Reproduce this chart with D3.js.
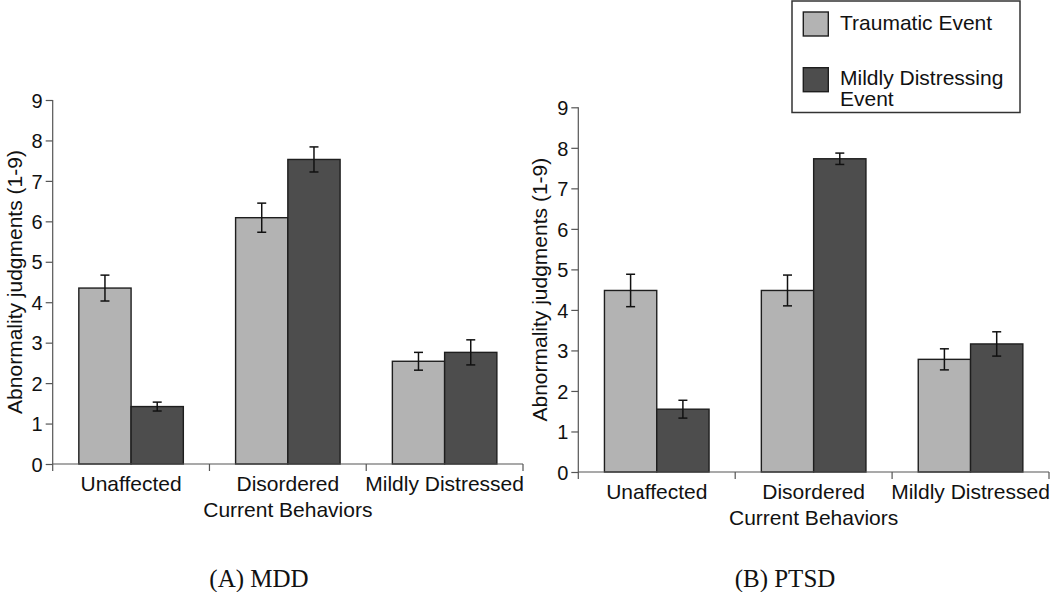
<!DOCTYPE html>
<html>
<head>
<meta charset="utf-8">
<script src="https://cdn.jsdelivr.net/npm/d3@7"></script>
<style>
  html, body { margin: 0; padding: 0; background: #fff; }
  svg { display: block; }
  text { font-family: "Liberation Sans", Arial, Helvetica, sans-serif; fill: #111; }
  .caption { font-family: "Liberation Serif", "Times New Roman", serif; }
</style>
</head>
<body>
<svg id="chart" width="1050" height="592"></svg>
<script>
// ---- data ----
const categories = ["Unaffected", "Disordered", "Mildly Distressed"];
const seriesNames = ["Traumatic Event", "Mildly Distressing Event"];
const yTicks = [0, 1, 2, 3, 4, 5, 6, 7, 8, 9];

const mddTraumatic    = [4.35, 6.09, 2.54];
const mddTraumaticErr = [0.32, 0.36, 0.22];
const mddMild         = [1.42, 7.53, 2.76];
const mddMildErr      = [0.11, 0.31, 0.31];

const ptsdTraumatic    = [4.48, 4.48, 2.78];
const ptsdTraumaticErr = [0.40, 0.38, 0.26];
const ptsdMild         = [1.55, 7.73, 3.16];
const ptsdMildErr      = [0.22, 0.14, 0.30];

const xTitle = "Current Behaviors";
const yTitle = "Abnormality judgments (1-9)";
const captions = ["(A) MDD", "(B) PTSD"];

// ---- styles ----
const colors = ["#b3b3b3", "#4d4d4d"];
const barStroke = "#1e1e1e";
const axisColor = "#555";

const svg = d3.select("#chart");

function drawPanel(cfg) {
  const g = svg.append("g");
  const x = d3.scaleBand().domain(categories).range([cfg.left, cfg.right]).padding(0);
  const xs = d3.scaleBand().domain(seriesNames).range([0, x.bandwidth()])
    .paddingInner(0).paddingOuter(0.5);
  const y = d3.scaleLinear().domain([0, 9]).range([cfg.bottom, cfg.top]);

  const rows = [];
  categories.forEach((c, i) => {
    rows.push({ c, s: seriesNames[0], v: cfg.t[i], e: cfg.te[i] });
    rows.push({ c, s: seriesNames[1], v: cfg.m[i], e: cfg.me[i] });
  });

  // bars
  g.selectAll("rect.bar").data(rows).join("rect")
    .attr("class", "bar")
    .attr("x", d => x(d.c) + xs(d.s))
    .attr("y", d => y(d.v))
    .attr("width", xs.bandwidth())
    .attr("height", d => y(0) - y(d.v))
    .attr("fill", d => colors[seriesNames.indexOf(d.s)])
    .attr("stroke", barStroke)
    .attr("stroke-width", 1.4);

  // error bars
  const cap = 4.5;
  const eg = g.selectAll("g.err").data(rows).join("g").attr("class", "err")
    .attr("stroke", "#111").attr("stroke-width", 1.5);
  eg.append("line")
    .attr("x1", d => x(d.c) + xs(d.s) + xs.bandwidth() / 2)
    .attr("x2", d => x(d.c) + xs(d.s) + xs.bandwidth() / 2)
    .attr("y1", d => y(d.v + d.e)).attr("y2", d => y(d.v - d.e));
  eg.append("line")
    .attr("x1", d => x(d.c) + xs(d.s) + xs.bandwidth() / 2 - cap)
    .attr("x2", d => x(d.c) + xs(d.s) + xs.bandwidth() / 2 + cap)
    .attr("y1", d => y(d.v + d.e)).attr("y2", d => y(d.v + d.e));
  eg.append("line")
    .attr("x1", d => x(d.c) + xs(d.s) + xs.bandwidth() / 2 - cap)
    .attr("x2", d => x(d.c) + xs(d.s) + xs.bandwidth() / 2 + cap)
    .attr("y1", d => y(d.v - d.e)).attr("y2", d => y(d.v - d.e));

  // y axis
  const yAxis = d3.axisLeft(y).tickValues(yTicks).tickSize(7).tickPadding(3).tickFormat(d3.format("d"));
  const ya = g.append("g").attr("transform", `translate(${cfg.left},0)`).call(yAxis);
  ya.select(".domain").attr("stroke", axisColor).attr("stroke-width", 1.2).attr("d", `M0,${cfg.bottom}V${cfg.top}`);
  ya.selectAll(".tick line").attr("stroke", axisColor).attr("stroke-width", 1.2);
  ya.selectAll(".tick text").style("font-size", "20px").attr("fill", "#111").attr("dy", "0.36em")
    .style("font-family", '"Liberation Sans", Arial, sans-serif');

  // x axis: boundary ticks
  const bounds = categories.map(c => x(c)).concat([cfg.right]);
  const xa = g.append("g");
  xa.append("line").attr("x1", cfg.left).attr("x2", cfg.right)
    .attr("y1", cfg.bottom).attr("y2", cfg.bottom)
    .attr("stroke", axisColor).attr("stroke-width", 1.2);
  xa.selectAll("line.bt").data(bounds).join("line").attr("class", "bt")
    .attr("x1", d => d).attr("x2", d => d)
    .attr("y1", cfg.bottom).attr("y2", cfg.bottom + 7)
    .attr("stroke", axisColor).attr("stroke-width", 1.2);
  xa.selectAll("text.cat").data(categories).join("text").attr("class", "cat")
    .attr("x", d => x(d) + x.bandwidth() / 2)
    .attr("y", cfg.bottom + 27)
    .attr("text-anchor", "middle")
    .style("font-size", "21px")
    .text(d => d);

  // axis titles
  g.append("text")
    .attr("x", (cfg.left + cfg.right) / 2)
    .attr("y", cfg.bottom + 53)
    .attr("text-anchor", "middle")
    .style("font-size", "21px")
    .text(xTitle);
  g.append("text")
    .attr("transform", `translate(${cfg.left - 31},${(cfg.top + cfg.bottom) / 2}) rotate(-90)`)
    .attr("text-anchor", "middle")
    .style("font-size", "21px")
    .text(yTitle);

  // caption
  g.append("text").attr("class", "caption")
    .attr("x", cfg.captionX).attr("y", 587)
    .attr("text-anchor", "middle")
    .style("font-size", "25px")
    .text(cfg.caption);
}

drawPanel({ left: 52.7, right: 523, top: 100, bottom: 464,
  t: mddTraumatic, te: mddTraumaticErr, m: mddMild, me: mddMildErr,
  caption: captions[0], captionX: 259 });
drawPanel({ left: 578.3, right: 1049, top: 107.3, bottom: 472,
  t: ptsdTraumatic, te: ptsdTraumaticErr, m: ptsdMild, me: ptsdMildErr,
  caption: captions[1], captionX: 785 });

// legend
const lg = svg.append("g");
lg.append("rect").attr("x", 792).attr("y", 1).attr("width", 228).attr("height", 111.5)
  .attr("fill", "#fff").attr("stroke", "#333").attr("stroke-width", 1.5);
const legendRows = [
  { lines: [seriesNames[0]], sy: 12 },
  { lines: ["Mildly Distressing", "Event"], sy: 67.7 }
];
legendRows.forEach((r, i) => {
  lg.append("rect").attr("x", 803.3).attr("y", r.sy).attr("width", 25).attr("height", 24)
    .attr("fill", colors[i]).attr("stroke", barStroke).attr("stroke-width", 1.4);
  r.lines.forEach((t, j) => {
    lg.append("text").attr("x", 840).attr("y", r.sy + 17.5 + j * 21)
      .style("font-size", "21px").text(t);
  });
});
</script>
</body>
</html>
